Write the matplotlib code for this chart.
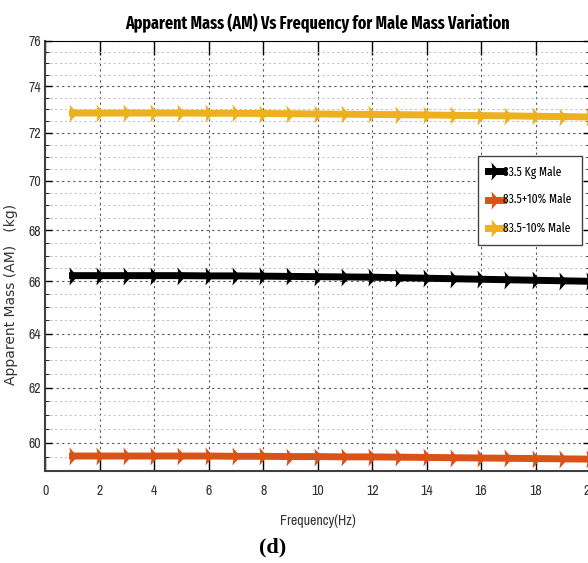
import numpy as np
import matplotlib
matplotlib.use("Agg")
import matplotlib.pyplot as plt
from matplotlib.ticker import MultipleLocator

# Data
freq = [1, 2, 3, 4, 5, 6, 7, 8, 9, 10, 11, 12, 13, 14, 15, 16, 17, 18, 19, 20]
am_base = [66.22, 66.22, 66.22, 66.22, 66.22, 66.21, 66.21, 66.20, 66.19, 66.18,
           66.17, 66.16, 66.14, 66.12, 66.10, 66.08, 66.06, 66.04, 66.02, 66.00]
am_plus10 = [59.53, 59.53, 59.53, 59.53, 59.53, 59.53, 59.52, 59.52, 59.51, 59.51,
             59.50, 59.50, 59.49, 59.48, 59.47, 59.46, 59.45, 59.44, 59.43, 59.42]
am_minus10 = [72.84, 72.84, 72.84, 72.84, 72.84, 72.83, 72.83, 72.82, 72.81, 72.80,
              72.79, 72.78, 72.77, 72.76, 72.74, 72.73, 72.72, 72.70, 72.69, 72.67]
labels = ["83.5 Kg Male", "83.5+10% Male", "83.5-10% Male"]
colors = ["#000000", "#D95319", "#EDB120"]

# narrow faces, falling back to condensed DejaVu
NARROW = dict(family=["Archivo Narrow", "DejaVu Sans"], stretch="condensed")
XNARROW = dict(family=["Fira Sans Extra Condensed", "Archivo Narrow", "DejaVu Sans"],
               stretch="condensed")

# the source image is stretched a little toward the bottom, so the y axis
# spacing grows slowly from 76 down to 59
A, B, YTOP = 22.19, 0.18, 76.0


def fwd(v):
    u = YTOP - np.asarray(v, dtype=float)
    return -(A * u + B * u * u)


def inv(t):
    t = np.asarray(t, dtype=float)
    disc = np.clip(A * A - 4 * B * t, 0, None)
    u = (-A + np.sqrt(disc)) / (2 * B)
    return YTOP - u


fig = plt.figure(figsize=(5.88, 5.63), dpi=100)
ax = fig.add_axes([0.077, 0.1634, 0.9264, 0.7638])
ax.set_yscale("function", functions=(fwd, inv))

# narrow arrow-head marker
arrow = [(-0.45, 1.0), (0.45, 0.0), (-0.45, -1.0), (-0.3, 0.0)]

for ys, lab, c in zip([am_base, am_plus10, am_minus10], labels, colors):
    ax.plot(freq, ys, color=c, lw=5, marker=arrow, markersize=13,
            markeredgewidth=0, label=lab)

ax.set_xlim(0, 20)
ax.set_ylim(59, 76)
ax.xaxis.set_major_locator(MultipleLocator(2))
ax.yaxis.set_major_locator(MultipleLocator(2))
ax.yaxis.set_minor_locator(MultipleLocator(0.5))

ax.grid(which="major", color="#555555", linestyle=(0, (2, 3)), linewidth=0.8)
ax.grid(which="minor", axis="y", color="#bbbbbb", linestyle=(0, (2, 3)), linewidth=0.7)

ax.tick_params(axis="x", which="major", direction="in", length=10, width=1,
               top=True, bottom=True, pad=9, labelsize=10, labelcolor="#333333")
ax.tick_params(axis="y", which="major", direction="in", length=5, width=1,
               left=True, right=True, pad=3, labelsize=10, labelcolor="#333333")
ax.tick_params(axis="y", which="minor", direction="in", length=3, width=0.6,
               left=True, right=True)
for lbl in ax.get_xticklabels() + ax.get_yticklabels():
    lbl.set_family(NARROW["family"])
    lbl.set_stretch(NARROW["stretch"])

for side in ["left", "bottom"]:
    ax.spines[side].set_color("#404040")
    ax.spines[side].set_linewidth(1.5)
ax.spines["top"].set_color("#000000")

ax.set_title("Apparent Mass (AM) Vs Frequency for Male Mass Variation",
             fontsize=12.5, fontweight="bold", pad=9, **XNARROW)
ax.set_xlabel("Frequency(Hz)", fontsize=10, color="#333333", labelpad=12, **NARROW)
ax.set_ylabel("Apparent Mass (AM)   (kg)", family="DejaVu Sans", fontsize=10,
              color="#333333")
ax.yaxis.set_label_coords(-0.05, 0.41)

# anchored by its right edge so the box stays inside the picture
leg = ax.legend(loc="upper right", bbox_to_anchor=(0.985, 0.733), borderaxespad=0,
                fancybox=False, edgecolor="#444444", framealpha=1,
                handlelength=1.2, handletextpad=0.05, borderpad=0.8,
                labelspacing=1.25, prop=dict(size=9, **XNARROW))
leg.get_frame().set_linewidth(1.0)

fig.text(0.463, 0.027, "(d)", family="Liberation Serif", fontweight="bold",
         fontsize=16, ha="center", va="center")

fig.savefig("out.png", dpi=100)
